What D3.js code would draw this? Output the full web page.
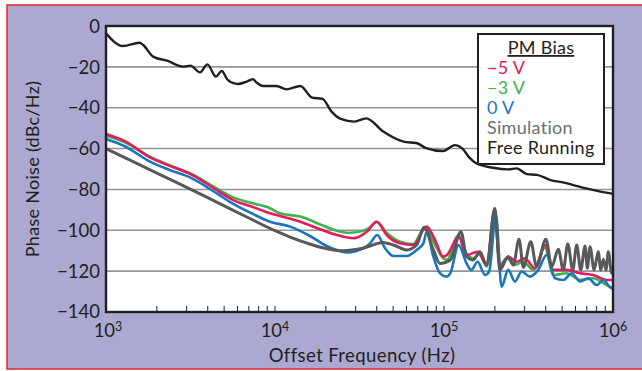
<!DOCTYPE html>
<html>
<head>
<meta charset="utf-8">
<script src="https://cdn.jsdelivr.net/npm/d3@7"></script>
<style>
  html, body { margin: 0; padding: 0; background: #fff; }
  svg { display: block; font-family: Lato, "Open Sans", sans-serif; }
</style>
</head>
<body>
<div id="chart"></div>
<script>
// Axis ticks
const yTicks = [0, -20, -40, -60, -80, -100, -120, -140];
const xDecades = [3, 4, 5, 6];

// Series data: [offset frequency (Hz), phase noise (dBc/Hz)]
const freeRunning = [
  [1000, -3.6], [1260, -9.8], [1580, -8.2], [1660, -9.3], [1900, -15], [2300, -17],
  [2880, -19.9], [3160, -19.4], [3600, -22.7], [3980, -18.8], [4470, -24.8], [4840, -22],
  [5250, -26.4], [6030, -28.4], [6760, -27.3], [7410, -26.1], [7760, -27.6], [8510, -29.4],
  [10200, -29.4], [11700, -31], [14100, -29.4], [16600, -35.1], [19100, -35.7], [21600, -41.9],
  [24500, -45.5], [29500, -46.8], [34700, -45.2], [43700, -51.7], [57500, -56.6], [69200, -57.4],
  [77600, -59.6], [98900, -61.2], [116000, -58.3], [129000, -60.2], [141000, -64.3], [155000, -67.2],
  [195000, -69.4], [240000, -70.2], [269000, -69.7], [309000, -72.5], [355000, -72.9], [427000, -75.4],
  [513000, -76.7], [661000, -79.1], [794000, -80.6], [1000000, -82.2]
];

const bias5 = [
  [1000, -52.9], [1300, -56.5], [1820, -64.3], [2400, -68.6], [3140, -72.4], [4520, -80.3], [5660, -85.2],
  [7400, -88.6], [9340, -91.7], [10700, -93], [14100, -95.8], [18500, -99.5], [23200, -102.3], [29100, -103.9],
  [34900, -100.7], [40000, -95.8], [45800, -102.3], [55000, -106.4], [65800, -107.2], [79000, -98.2],
  [88400, -104.7], [99000, -112.9], [104000, -112.1], [122000, -103.1], [136000, -112.1], [158000, -110.5],
  [179000, -117], [199000, -90], [214000, -117.8], [240000, -112.9], [269000, -115.4], [301000, -113.7],
  [345000, -118.6], [396000, -107.2], [443000, -119.4], [532000, -119.4], [638000, -121], [764000, -121.9],
  [918000, -124.3], [1000000, -124.3]
];

const bias3 = [
  [1000, -53.7], [1300, -57], [1820, -64], [2400, -68.3], [3140, -72.1], [4520, -79.5], [5660, -83.9],
  [7400, -86.8], [9340, -89.2], [10700, -91.7], [14100, -93.3], [18500, -97.1], [23200, -100.2], [27800, -101.2],
  [33300, -100.2], [36500, -98.5], [40000, -95.8], [45800, -101.2], [55000, -105.6], [65800, -106.7],
  [77200, -98.5], [86500, -105.6], [99000, -113.7], [104000, -114.5], [122000, -102.3], [136000, -111.3],
  [149000, -113.7], [163000, -111.3], [179000, -117.8], [199000, -90.9], [214000, -117], [235000, -113.7],
  [263000, -117], [295000, -115.4], [338000, -119.4], [396000, -108.5], [443000, -121.9], [532000, -121],
  [638000, -124.3], [764000, -123.5], [918000, -126.8], [1000000, -128.4]
];

const bias0 = [
  [1000, -55.3], [1300, -59], [1820, -66.4], [2400, -70.6], [3140, -74.1], [4520, -81.9], [5660, -87.1],
  [7400, -92], [9340, -95.8], [12300, -98.2], [16100, -102.8], [20200, -107.7], [26600, -110.8],
  [33300, -108.8], [36500, -106.4], [40300, -102.3], [44800, -108.8], [50100, -112.6], [60100, -112.6],
  [68900, -109.6], [75500, -106.4], [79000, -100.7], [86500, -112.9], [94600, -121], [104000, -122.7],
  [109000, -121], [122000, -107.2], [136000, -116.2], [145000, -119.4], [158000, -115.4], [175000, -121.9],
  [185000, -120.2], [203000, -92.5], [219000, -127.6], [240000, -119.4], [263000, -125.1], [288000, -120.2],
  [323000, -122.7], [361000, -119.4], [405000, -112.1], [454000, -123.5], [508000, -124.3], [570000, -121],
  [638000, -125.1], [714000, -123.5], [801000, -126.8], [876000, -124.3], [982000, -128.4], [1000000, -128]
];

const simulation = [
  [1000, -60], [2000, -72], [4000, -84], [7000, -94], [10000, -100.2], [12300, -103.3],
  [15500, -106.3], [18600, -108.3], [25100, -110], [33100, -108.8], [43700, -106], [50100, -107.2],
  [60300, -109.6], [68900, -107.2], [76200, -98.5], [86500, -109.6], [94600, -116.2], [109000, -114.5],
  [126000, -100.7], [136000, -112.9], [149000, -114.5], [163000, -110.5], [179000, -117], [200000, -89.2],
  [214000, -119.4], [240000, -112.9], [257000, -117], [278000, -104.4], [295000, -118.2], [326000, -105.6],
  [353000, -117.8], [401000, -104.4], [434000, -117.8], [475000, -109.3], [508000, -119.4], [540000, -106.7],
  [578000, -119.4], [610000, -107.2], [644000, -119.4], [683000, -107.7], [705000, -118.6], [731000, -108],
  [773000, -119.4], [818000, -110.5], [846000, -119.4], [876000, -114.2], [909000, -119.4], [938000, -110.5],
  [982000, -121], [1000000, -119]
];

const legendItems = [
  { label: '\u22125 V', color: '#e5195b' },
  { label: '\u22123 V', color: '#3db54b' },
  { label: '0 V', color: '#1a75bc' },
  { label: 'Simulation', color: '#6d6e70' },
  { label: 'Free Running', color: '#231f20' }
];

const width = 642, height = 371;
const plot = { left: 106, right: 613, top: 26, bottom: 312 };

const svg = d3.select('#chart')
  .append('svg')
  .attr('width', width)
  .attr('height', height);

// Lavender panel with red frame
svg.append('rect')
  .attr('x', 7).attr('y', 5)
  .attr('width', 645).attr('height', 364)
  .attr('fill', '#aba9d1')
  .attr('stroke', '#e2262d')
  .attr('stroke-width', 1.5);

const x = d3.scaleLog().domain([1e3, 1e6]).range([plot.left, plot.right]);
const y = d3.scaleLinear().domain([-140, 0]).range([plot.bottom, plot.top]);

// Plot background
svg.append('rect')
  .attr('x', plot.left).attr('y', plot.top)
  .attr('width', plot.right - plot.left).attr('height', plot.bottom - plot.top)
  .attr('fill', '#fff');

// Horizontal grid
svg.append('g')
  .selectAll('line')
  .data(yTicks.filter(d => d > -140 && d < 0))
  .enter()
  .append('line')
  .attr('x1', plot.left).attr('x2', plot.right)
  .attr('y1', d => y(d)).attr('y2', d => y(d))
  .attr('stroke', '#939598')
  .attr('stroke-width', 1.6);

// Minor ticks on the bottom axis
const minor = x.ticks().filter(d => d > 1e3 && d < 1e6);
svg.append('g')
  .selectAll('line')
  .data(minor)
  .enter()
  .append('line')
  .attr('x1', d => x(d)).attr('x2', d => x(d))
  .attr('y1', plot.bottom).attr('y2', plot.bottom - 6)
  .attr('stroke', '#231f20')
  .attr('stroke-width', 1);

// Curves
const line = d3.line()
  .x(d => x(d[0]))
  .y(d => y(d[1]))
  .curve(d3.curveMonotoneX);

const series = [
  { data: bias3, color: '#3db54b', w: 2.6 },
  { data: bias5, color: '#e5195b', w: 2.6 },
  { data: bias0, color: '#1a75bc', w: 2.6 },
  { data: simulation, color: '#58595b', w: 3 },
  { data: freeRunning, color: '#231f20', w: 2.4 }
];

svg.append('g')
  .selectAll('path')
  .data(series)
  .enter()
  .append('path')
  .attr('d', d => line(d.data))
  .attr('fill', 'none')
  .attr('stroke', d => d.color)
  .attr('stroke-width', d => d.w)
  .attr('stroke-linejoin', 'round');

// Plot frame
svg.append('rect')
  .attr('x', plot.left).attr('y', plot.top)
  .attr('width', plot.right - plot.left).attr('height', plot.bottom - plot.top)
  .attr('fill', 'none')
  .attr('stroke', '#231f20')
  .attr('stroke-width', 2.4);

// Y tick labels
svg.append('g')
  .selectAll('text')
  .data(yTicks)
  .enter()
  .append('text')
  .attr('x', plot.left - 6)
  .attr('y', d => y(d))
  .attr('dy', d => d === -140 ? '0.3em' : '0.36em')
  .attr('text-anchor', 'end')
  .attr('font-size', 18.5)
  .attr('fill', '#231f20')
  .text(d => d === 0 ? '0' : '\u2212' + Math.abs(d));

// X tick labels: 10^n
const xl = svg.append('g')
  .selectAll('text')
  .data(xDecades)
  .enter()
  .append('text')
  .attr('x', d => x(Math.pow(10, d)) + (d === 3 ? 2 : 0))
  .attr('y', 337)
  .attr('text-anchor', 'middle')
  .attr('font-size', 18.5)
  .attr('fill', '#231f20');
xl.append('tspan').text('10');
xl.append('tspan').attr('font-size', 12.5).attr('dy', -6).text(d => d);

// Axis titles
svg.append('text')
  .attr('x', 362).attr('y', 362)
  .attr('text-anchor', 'middle')
  .attr('font-size', 18.5)
  .attr('letter-spacing', 0.4)
  .attr('fill', '#231f20')
  .text('Offset Frequency (Hz)');

svg.append('text')
  .attr('transform', 'translate(39,169) rotate(-90)')
  .attr('text-anchor', 'middle')
  .attr('font-size', 18)
  .attr('letter-spacing', 0.3)
  .attr('fill', '#231f20')
  .text('Phase Noise (dBc/Hz)');

// Legend
const lg = svg.append('g');
lg.append('rect')
  .attr('x', 478).attr('y', 34)
  .attr('width', 126).attr('height', 130)
  .attr('fill', '#fff')
  .attr('stroke', '#231f20')
  .attr('stroke-width', 2);

lg.append('text')
  .attr('x', 541).attr('y', 54)
  .attr('text-anchor', 'middle')
  .attr('font-size', 18)
  .attr('letter-spacing', 0.3)
  .attr('text-decoration', 'underline')
  .attr('fill', '#231f20')
  .text('PM Bias');

lg.selectAll('text.item')
  .data(legendItems)
  .enter()
  .append('text')
  .attr('class', 'item')
  .attr('x', 487)
  .attr('y', (d, i) => 74 + i * 20)
  .attr('font-size', 18)
  .attr('letter-spacing', 0.3)
  .attr('fill', d => d.color)
  .text(d => d.label);
</script>
</body>
</html>
